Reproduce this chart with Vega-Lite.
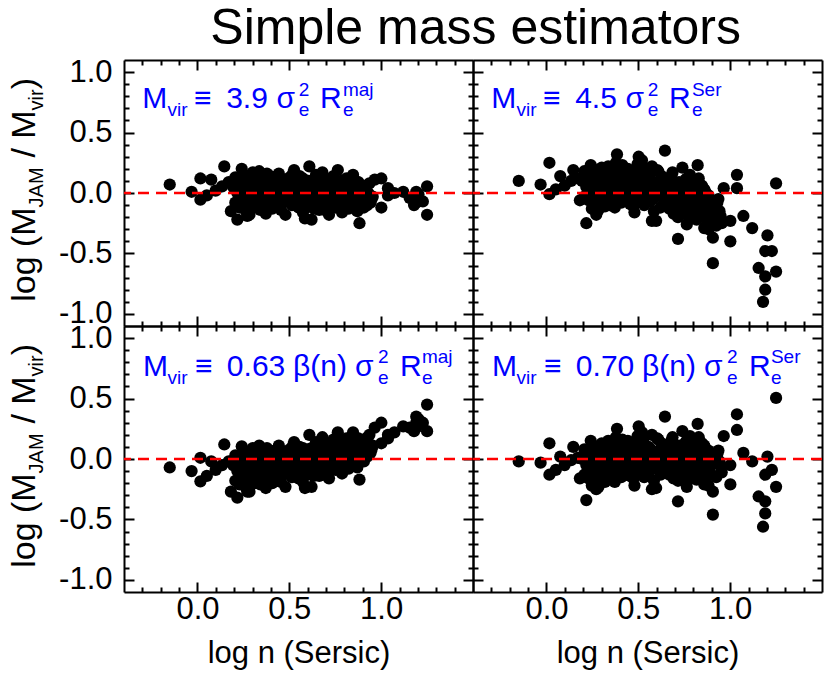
{
"$schema":"https://vega.github.io/schema/vega-lite/v6.json",
"padding":{"left":8,"top":4,"right":4,"bottom":4},
"background":"white",
"config":{"view":{"stroke":null},"font":"Liberation Sans","text":{"font":"Liberation Sans"}},
"title":{"text":"Simple mass estimators","fontSize":50,"fontWeight":"normal","color":"black","anchor":"middle","frame":"bounds","offset":2,"dx":60},
"data":{"values":[
{"n":-0.151,"tl":0.07,"tr":0.10,"bl":-0.07,"br":-0.02},
{"n":-0.032,"tl":0.01,"tr":0.07,"bl":-0.10,"br":-0.03},
{"n":0.016,"tl":0.12,"tr":0.25,"bl":0.01,"br":0.13},
{"n":0.075,"tl":0.11,"tr":0.14,"bl":-0.02,"br":0.02},
{"n":0.016,"tl":-0.055,"tr":-0.01,"bl":-0.185,"br":-0.13},
{"n":0.146,"tl":0.22,"tr":0.19,"bl":0.12,"br":0.10},
{"n":0.134,"tl":0.055,"tr":0.10,"bl":-0.05,"br":-0.01},
{"n":0.182,"tl":-0.15,"tr":-0.06,"bl":-0.27,"br":-0.16},
{"n":0.217,"tl":-0.22,"tr":-0.25,"bl":-0.32,"br":-0.34},
{"n":0.271,"tl":-0.19,"tr":-0.18,"bl":-0.27,"br":-0.25},
{"n":0.241,"tl":0.20,"tr":0.23,"bl":0.105,"br":0.15},
{"n":0.099,"tl":0.02,"tr":0.06,"bl":-0.09,"br":-0.05},
{"n":0.051,"tl":-0.02,"tr":0.03,"bl":-0.14,"br":-0.09},
{"n":0.170,"tl":0.09,"tr":0.12,"bl":-0.02,"br":0.01},
{"n":0.194,"tl":0.05,"tr":0.10,"bl":-0.05,"br":0.00},
{"n":0.206,"tl":-0.08,"tr":-0.03,"bl":-0.18,"br":-0.13},
{"n":0.206,"tl":0.13,"tr":0.18,"bl":0.03,"br":0.08},
{"n":0.217,"tl":0.00,"tr":0.05,"bl":-0.10,"br":-0.05},
{"n":0.229,"tl":-0.12,"tr":-0.06,"bl":-0.21,"br":-0.16},
{"n":0.229,"tl":0.08,"tr":0.15,"bl":-0.01,"br":0.05},
{"n":0.241,"tl":-0.03,"tr":0.02,"bl":-0.12,"br":-0.07},
{"n":0.253,"tl":0.15,"tr":0.20,"bl":0.06,"br":0.11},
{"n":0.253,"tl":-0.06,"tr":-0.01,"bl":-0.15,"br":-0.10},
{"n":0.265,"tl":0.03,"tr":0.09,"bl":-0.06,"br":0.00},
{"n":0.265,"tl":-0.15,"tr":-0.10,"bl":-0.24,"br":-0.19},
{"n":0.277,"tl":0.10,"tr":0.13,"bl":0.02,"br":0.05},
{"n":0.277,"tl":-0.01,"tr":0.04,"bl":-0.09,"br":-0.04},
{"n":0.289,"tl":0.06,"tr":0.11,"bl":-0.02,"br":0.03},
{"n":0.289,"tl":-0.09,"tr":-0.04,"bl":-0.17,"br":-0.12},
{"n":0.301,"tl":0.17,"tr":0.21,"bl":0.09,"br":0.13},
{"n":0.301,"tl":-0.04,"tr":0.01,"bl":-0.12,"br":-0.07},
{"n":0.312,"tl":0.01,"tr":0.07,"bl":-0.07,"br":-0.01},
{"n":0.312,"tl":-0.12,"tr":-0.08,"bl":-0.20,"br":-0.16},
{"n":0.324,"tl":0.09,"tr":0.14,"bl":0.02,"br":0.07},
{"n":0.324,"tl":-0.06,"tr":-0.02,"bl":-0.13,"br":-0.09},
{"n":0.336,"tl":0.03,"tr":0.08,"bl":-0.04,"br":0.01},
{"n":0.336,"tl":0.18,"tr":0.22,"bl":0.11,"br":0.15},
{"n":0.348,"tl":-0.10,"tr":-0.05,"bl":-0.17,"br":-0.12},
{"n":0.348,"tl":0.05,"tr":0.12,"bl":-0.02,"br":0.05},
{"n":0.360,"tl":-0.02,"tr":0.03,"bl":-0.09,"br":-0.04},
{"n":0.360,"tl":0.12,"tr":0.18,"bl":0.05,"br":0.11},
{"n":0.372,"tl":-0.17,"tr":-0.12,"bl":-0.24,"br":-0.19},
{"n":0.372,"tl":0.00,"tr":0.06,"bl":-0.07,"br":-0.01},
{"n":0.384,"tl":0.07,"tr":0.32,"bl":0.00,"br":0.25},
{"n":0.384,"tl":-0.07,"tr":-0.03,"bl":-0.14,"br":-0.10},
{"n":0.396,"tl":0.14,"tr":0.17,"bl":0.07,"br":0.10},
{"n":0.396,"tl":-0.03,"tr":0.02,"bl":-0.10,"br":-0.05},
{"n":0.407,"tl":0.04,"tr":0.09,"bl":-0.03,"br":0.02},
{"n":0.407,"tl":-0.13,"tr":-0.08,"bl":-0.20,"br":-0.15},
{"n":0.419,"tl":0.10,"tr":0.15,"bl":0.04,"br":0.09},
{"n":0.419,"tl":-0.05,"tr":0.00,"bl":-0.11,"br":-0.06},
{"n":0.431,"tl":0.02,"tr":0.08,"bl":-0.04,"br":0.02},
{"n":0.431,"tl":-0.09,"tr":-0.04,"bl":-0.15,"br":-0.10},
{"n":0.443,"tl":0.16,"tr":0.20,"bl":0.11,"br":0.15},
{"n":0.443,"tl":-0.01,"tr":0.05,"bl":-0.06,"br":0.00},
{"n":0.455,"tl":0.06,"tr":0.10,"bl":0.01,"br":0.05},
{"n":0.455,"tl":-0.14,"tr":-0.09,"bl":-0.19,"br":-0.14},
{"n":0.467,"tl":0.11,"tr":0.16,"bl":0.06,"br":0.11},
{"n":0.467,"tl":-0.04,"tr":0.01,"bl":-0.09,"br":-0.04},
{"n":0.479,"tl":0.00,"tr":0.06,"bl":-0.05,"br":0.01},
{"n":0.479,"tl":-0.18,"tr":-0.16,"bl":-0.23,"br":-0.22},
{"n":0.491,"tl":0.08,"tr":0.12,"bl":0.03,"br":0.07},
{"n":0.491,"tl":-0.07,"tr":-0.02,"bl":-0.12,"br":-0.07},
{"n":0.502,"tl":0.03,"tr":0.30,"bl":-0.02,"br":0.27},
{"n":0.502,"tl":0.13,"tr":0.16,"bl":0.08,"br":0.11},
{"n":0.514,"tl":-0.10,"tr":-0.05,"bl":-0.15,"br":-0.10},
{"n":0.514,"tl":0.05,"tr":0.09,"bl":0.00,"br":0.04},
{"n":0.526,"tl":-0.02,"tr":0.03,"bl":-0.07,"br":-0.02},
{"n":0.526,"tl":0.19,"tr":0.21,"bl":0.14,"br":0.16},
{"n":0.538,"tl":-0.05,"tr":0.00,"bl":-0.10,"br":-0.05},
{"n":0.538,"tl":0.09,"tr":0.13,"bl":0.04,"br":0.08},
{"n":0.550,"tl":-0.12,"tr":-0.07,"bl":-0.16,"br":-0.11},
{"n":0.550,"tl":0.01,"tr":0.06,"bl":-0.03,"br":0.02},
{"n":0.562,"tl":0.07,"tr":0.08,"bl":0.04,"br":0.05},
{"n":0.562,"tl":-0.08,"tr":-0.07,"bl":-0.11,"br":-0.10},
{"n":0.574,"tl":0.12,"tr":0.22,"bl":0.09,"br":0.20},
{"n":0.574,"tl":-0.16,"tr":-0.23,"bl":-0.19,"br":-0.25},
{"n":0.585,"tl":0.02,"tr":0.03,"bl":-0.01,"br":0.00},
{"n":0.585,"tl":-0.21,"tr":-0.15,"bl":-0.24,"br":-0.18},
{"n":0.597,"tl":0.04,"tr":0.02,"bl":0.02,"br":0.00},
{"n":0.597,"tl":-0.11,"tr":-0.23,"bl":-0.13,"br":-0.24},
{"n":0.609,"tl":0.22,"tr":0.18,"bl":0.20,"br":0.16},
{"n":0.609,"tl":-0.03,"tr":-0.02,"bl":-0.05,"br":-0.04},
{"n":0.621,"tl":0.10,"tr":0.09,"bl":0.09,"br":0.08},
{"n":0.621,"tl":-0.22,"tr":-0.12,"bl":-0.23,"br":-0.13},
{"n":0.633,"tl":0.00,"tr":0.00,"bl":-0.01,"br":-0.01},
{"n":0.633,"tl":-0.13,"tr":-0.10,"bl":-0.14,"br":-0.11},
{"n":0.645,"tl":0.06,"tr":0.35,"bl":0.05,"br":0.35},
{"n":0.645,"tl":0.15,"tr":0.12,"bl":0.14,"br":0.11},
{"n":0.657,"tl":-0.06,"tr":-0.08,"bl":-0.06,"br":-0.08},
{"n":0.657,"tl":0.03,"tr":0.05,"bl":0.03,"br":0.05},
{"n":0.669,"tl":-0.10,"tr":-0.13,"bl":-0.10,"br":-0.13},
{"n":0.669,"tl":0.08,"tr":0.06,"bl":0.08,"br":0.06},
{"n":0.680,"tl":-0.02,"tr":-0.04,"bl":-0.01,"br":-0.03},
{"n":0.680,"tl":0.17,"tr":0.14,"bl":0.18,"br":0.15},
{"n":0.692,"tl":0.04,"tr":0.01,"bl":0.05,"br":0.02},
{"n":0.692,"tl":-0.14,"tr":-0.17,"bl":-0.13,"br":-0.16},
{"n":0.704,"tl":0.11,"tr":0.08,"bl":0.13,"br":0.10},
{"n":0.704,"tl":-0.05,"tr":-0.08,"bl":-0.03,"br":-0.06},
{"n":0.716,"tl":0.01,"tr":-0.38,"bl":0.03,"br":-0.35},
{"n":0.716,"tl":-0.18,"tr":-0.20,"bl":-0.16,"br":-0.18},
{"n":0.728,"tl":0.07,"tr":0.04,"bl":0.09,"br":0.06},
{"n":0.728,"tl":-0.08,"tr":-0.11,"bl":-0.06,"br":-0.09},
{"n":0.740,"tl":0.14,"tr":0.21,"bl":0.16,"br":0.23},
{"n":0.740,"tl":0.00,"tr":-0.03,"bl":0.02,"br":-0.01},
{"n":0.752,"tl":-0.12,"tr":-0.15,"bl":-0.09,"br":-0.12},
{"n":0.752,"tl":0.05,"tr":0.02,"bl":0.08,"br":0.05},
{"n":0.764,"tl":-0.03,"tr":-0.26,"bl":0.00,"br":-0.23},
{"n":0.764,"tl":0.19,"tr":0.12,"bl":0.22,"br":0.15},
{"n":0.775,"tl":0.09,"tr":0.05,"bl":0.12,"br":0.08},
{"n":0.775,"tl":-0.07,"tr":-0.12,"bl":-0.04,"br":-0.09},
{"n":0.787,"tl":0.02,"tr":-0.03,"bl":0.06,"br":0.01},
{"n":0.787,"tl":-0.16,"tr":-0.20,"bl":-0.12,"br":-0.16},
{"n":0.799,"tl":0.06,"tr":0.00,"bl":0.10,"br":0.04},
{"n":0.799,"tl":-0.10,"tr":-0.16,"bl":-0.06,"br":-0.12},
{"n":0.811,"tl":0.12,"tr":0.07,"bl":0.17,"br":0.12},
{"n":0.811,"tl":-0.02,"tr":-0.08,"bl":0.03,"br":-0.03},
{"n":0.823,"tl":0.04,"tr":0.23,"bl":0.09,"br":0.29},
{"n":0.823,"tl":-0.13,"tr":-0.20,"bl":-0.08,"br":-0.15},
{"n":0.835,"tl":0.08,"tr":0.01,"bl":0.14,"br":0.07},
{"n":0.835,"tl":-0.05,"tr":-0.12,"bl":0.01,"br":-0.06},
{"n":0.847,"tl":0.15,"tr":0.06,"bl":0.22,"br":0.13},
{"n":0.847,"tl":0.00,"tr":-0.09,"bl":0.07,"br":-0.02},
{"n":0.859,"tl":-0.08,"tr":-0.29,"bl":0.00,"br":-0.21},
{"n":0.859,"tl":0.10,"tr":0.03,"bl":0.18,"br":0.11},
{"n":0.870,"tl":-0.15,"tr":-0.22,"bl":-0.07,"br":-0.14},
{"n":0.870,"tl":0.03,"tr":-0.05,"bl":0.11,"br":0.03},
{"n":0.882,"tl":-0.25,"tr":-0.30,"bl":-0.17,"br":-0.22},
{"n":0.882,"tl":0.07,"tr":-0.02,"bl":0.16,"br":0.07},
{"n":0.894,"tl":-0.04,"tr":-0.10,"bl":0.05,"br":-0.01},
{"n":0.906,"tl":-0.12,"tr":-0.37,"bl":-0.02,"br":-0.27},
{"n":0.906,"tl":0.05,"tr":-0.58,"bl":0.15,"br":-0.46},
{"n":0.930,"tl":0.00,"tr":-0.08,"bl":0.12,"br":0.04},
{"n":0.942,"tl":-0.08,"tr":-0.15,"bl":0.05,"br":-0.02},
{"n":0.965,"tl":0.11,"tr":0.04,"bl":0.26,"br":0.19},
{"n":0.954,"tl":-0.03,"tr":-0.25,"bl":0.11,"br":-0.11},
{"n":1.001,"tl":0.12,"tr":-0.40,"bl":0.30,"br":-0.21},
{"n":1.001,"tl":-0.12,"tr":-0.23,"bl":0.13,"br":-0.05},
{"n":1.037,"tl":0.04,"tr":0.15,"bl":0.20,"br":0.37},
{"n":1.037,"tl":-0.02,"tr":0.04,"bl":0.17,"br":0.24},
{"n":1.072,"tl":0.00,"tr":-0.19,"bl":0.22,"br":0.05},
{"n":1.120,"tl":0.01,"tr":-0.29,"bl":0.27,"br":-0.02},
{"n":1.155,"tl":-0.04,"tr":-0.62,"bl":0.26,"br":-0.31},
{"n":1.191,"tl":0.01,"tr":-0.48,"bl":0.35,"br":-0.13},
{"n":1.191,"tl":-0.03,"tr":-0.69,"bl":0.30,"br":-0.35},
{"n":1.191,"tl":-0.08,"tr":-0.80,"bl":0.26,"br":-0.45},
{"n":1.179,"tl":-0.10,"tr":-0.90,"bl":0.23,"br":-0.56},
{"n":1.227,"tl":-0.07,"tr":-0.48,"bl":0.30,"br":-0.09},
{"n":1.203,"tl":-0.01,"tr":-0.35,"bl":0.33,"br":0.02},
{"n":1.250,"tl":0.055,"tr":0.08,"bl":0.45,"br":0.505},
{"n":1.250,"tl":-0.18,"tr":-0.65,"bl":0.23,"br":-0.23},
{"n":0.235,"tl":0.11,"tr":0.12,"bl":0.02,"br":0.03},
{"n":0.247,"tl":-0.10,"tr":-0.13,"bl":-0.19,"br":-0.22},
{"n":0.259,"tl":0.05,"tr":0.02,"bl":-0.04,"br":-0.07},
{"n":0.283,"tl":-0.18,"tr":-0.14,"bl":-0.27,"br":-0.23},
{"n":0.295,"tl":0.13,"tr":0.10,"bl":0.05,"br":0.02},
{"n":0.306,"tl":0.04,"tr":0.16,"bl":-0.04,"br":0.08},
{"n":0.318,"tl":-0.02,"tr":-0.11,"bl":-0.10,"br":-0.19},
{"n":0.330,"tl":0.13,"tr":0.05,"bl":0.06,"br":-0.02},
{"n":0.342,"tl":-0.14,"tr":-0.10,"bl":-0.21,"br":-0.17},
{"n":0.354,"tl":0.09,"tr":0.19,"bl":0.02,"br":0.12},
{"n":0.366,"tl":-0.06,"tr":0.09,"bl":-0.13,"br":0.02},
{"n":0.378,"tl":0.16,"tr":0.25,"bl":0.09,"br":0.18},
{"n":0.390,"tl":0.02,"tr":-0.06,"bl":-0.05,"br":-0.13},
{"n":0.401,"tl":-0.10,"tr":0.04,"bl":-0.17,"br":-0.03},
{"n":0.413,"tl":0.13,"tr":0.23,"bl":0.06,"br":0.16},
{"n":0.425,"tl":-0.01,"tr":0.11,"bl":-0.07,"br":0.05},
{"n":0.437,"tl":0.07,"tr":0.02,"bl":0.01,"br":-0.04},
{"n":0.449,"tl":-0.12,"tr":0.00,"bl":-0.18,"br":-0.06},
{"n":0.461,"tl":0.03,"tr":0.17,"bl":-0.03,"br":0.11},
{"n":0.473,"tl":-0.07,"tr":-0.11,"bl":-0.12,"br":-0.16},
{"n":0.496,"tl":0.11,"tr":0.24,"bl":0.06,"br":0.19},
{"n":0.508,"tl":-0.04,"tr":0.07,"bl":-0.09,"br":0.02},
{"n":0.520,"tl":0.16,"tr":0.27,"bl":0.11,"br":0.22},
{"n":0.532,"tl":0.02,"tr":-0.10,"bl":-0.03,"br":-0.15},
{"n":0.544,"tl":-0.09,"tr":0.03,"bl":-0.13,"br":-0.01},
{"n":0.556,"tl":0.14,"tr":0.14,"bl":0.10,"br":0.10},
{"n":0.568,"tl":-0.04,"tr":0.11,"bl":-0.07,"br":0.08},
{"n":0.580,"tl":0.07,"tr":-0.05,"bl":0.04,"br":-0.08},
{"n":0.591,"tl":-0.09,"tr":0.06,"bl":-0.11,"br":0.04},
{"n":0.603,"tl":0.10,"tr":0.19,"bl":0.08,"br":0.17},
{"n":0.627,"tl":0.04,"tr":0.14,"bl":0.03,"br":0.13},
{"n":0.639,"tl":-0.08,"tr":0.03,"bl":-0.09,"br":0.02},
{"n":0.651,"tl":0.11,"tr":0.00,"bl":0.11,"br":0.00},
{"n":0.663,"tl":-0.14,"tr":-0.03,"bl":-0.14,"br":-0.03},
{"n":0.675,"tl":0.02,"tr":0.10,"bl":0.02,"br":0.10},
{"n":0.686,"tl":0.08,"tr":0.17,"bl":0.09,"br":0.18},
{"n":0.698,"tl":-0.09,"tr":0.05,"bl":-0.08,"br":0.06},
{"n":0.710,"tl":0.05,"tr":-0.12,"bl":0.07,"br":-0.10},
{"n":0.722,"tl":-0.03,"tr":0.09,"bl":-0.01,"br":0.11},
{"n":0.734,"tl":0.12,"tr":0.01,"bl":0.14,"br":0.03},
{"n":0.746,"tl":-0.10,"tr":-0.05,"bl":-0.08,"br":-0.03},
{"n":0.758,"tl":0.03,"tr":0.11,"bl":0.06,"br":0.14},
{"n":0.770,"tl":-0.06,"tr":-0.19,"bl":-0.03,"br":-0.16},
{"n":0.781,"tl":0.10,"tr":0.15,"bl":0.14,"br":0.19},
{"n":0.793,"tl":-0.09,"tr":-0.06,"bl":-0.05,"br":-0.02},
{"n":0.805,"tl":0.01,"tr":0.09,"bl":0.05,"br":0.13},
{"n":0.817,"tl":-0.06,"tr":-0.22,"bl":-0.01,"br":-0.17},
{"n":0.829,"tl":0.11,"tr":0.12,"bl":0.17,"br":0.18},
{"n":0.841,"tl":-0.11,"tr":-0.01,"bl":-0.05,"br":0.05},
{"n":0.853,"tl":0.02,"tr":-0.16,"bl":0.09,"br":-0.09},
{"n":0.865,"tl":-0.03,"tr":0.01,"bl":0.05,"br":0.09},
{"n":0.876,"tl":0.09,"tr":-0.07,"bl":0.17,"br":0.01},
{"n":0.888,"tl":-0.07,"tr":-0.17,"bl":0.02,"br":-0.08},
{"n":0.900,"tl":0.03,"tr":-0.23,"bl":0.13,"br":-0.13},
{"n":0.918,"tl":0.06,"tr":-0.12,"bl":0.17,"br":-0.01},
{"n":0.924,"tl":-0.10,"tr":-0.27,"bl":0.02,"br":-0.15},
{"n":0.936,"tl":0.08,"tr":-0.05,"bl":0.20,"br":0.07},
{"n":0.948,"tl":-0.05,"tr":-0.19,"bl":0.08,"br":-0.06}
]},
"columns":2,
"spacing":0,
"bounds":"flush",
"concat":[
{"width":349,"height":266,
 "layer":[
  {"mark":{"type":"circle","size":150,"color":"black","opacity":1},
   "encoding":{
    "x":{"field":"n","type":"quantitative","scale":{"domain":[-0.4,1.5],"nice":false,"zero":false},"axis":{"orient":"bottom","values":[-0.3,-0.2,-0.1,0.1,0.2,0.3,0.4,0.6,0.7,0.8,0.9,1.1,1.2,1.3,1.4],"labels":false,"title":null,"grid":false,"domain":true,"domainColor":"black","domainWidth":2,"ticks":true,"tickColor":"black","tickWidth":2,"tickSize":-5}},
    "y":{"field":"tl","type":"quantitative","scale":{"domain":[-1.1,1.1],"nice":false,"zero":false},"axis":{"orient":"left","values":[-0.9,-0.8,-0.7,-0.6,-0.4,-0.3,-0.2,-0.1,0.1,0.2,0.3,0.4,0.6,0.7,0.8,0.9],"labels":false,"title":null,"grid":false,"domain":true,"domainColor":"black","domainWidth":2,"ticks":true,"tickColor":"black","tickWidth":2,"tickSize":-5}}}},
  {"data":{"values":[{}]},"mark":{"type":"point","opacity":0},
   "encoding":{"x":{"datum":0,"axis":{"orient":"bottom","values":[0,0.5,1],"labels":false,"title":null,"grid":false,"domain":false,"ticks":true,"tickColor":"black","tickWidth":2,"tickSize":-10}},
               "y":{"datum":0,"axis":{"orient":"left","values":[-1,-0.5,0,0.5,1],"labels":false,"title":null,"grid":false,"domain":false,"ticks":true,"tickColor":"black","tickWidth":2,"tickSize":-10}}}},
  {"data":{"values":[{}]},"mark":{"type":"point","opacity":0},
   "encoding":{"x":{"datum":0,"axis":{"orient":"top","values":[-0.3,-0.2,-0.1,0.1,0.2,0.3,0.4,0.6,0.7,0.8,0.9,1.1,1.2,1.3,1.4],"labels":false,"title":null,"grid":false,"domain":true,"domainColor":"black","domainWidth":2,"ticks":true,"tickColor":"black","tickWidth":2,"tickSize":-5}},
               "y":{"datum":0,"axis":{"orient":"right","values":[-0.9,-0.8,-0.7,-0.6,-0.4,-0.3,-0.2,-0.1,0.1,0.2,0.3,0.4,0.6,0.7,0.8,0.9],"labels":false,"title":null,"grid":false,"domain":true,"domainColor":"black","domainWidth":2,"ticks":true,"tickColor":"black","tickWidth":2,"tickSize":-5}}}},
  {"data":{"values":[{}]},"mark":{"type":"point","opacity":0},
   "encoding":{"x":{"datum":0,"axis":{"orient":"top","values":[0,0.5,1],"labels":false,"title":null,"grid":false,"domain":false,"ticks":true,"tickColor":"black","tickWidth":2,"tickSize":-10}},
               "y":{"datum":0,"axis":{"orient":"right","values":[-1,-0.5,0,0.5,1],"labels":false,"title":null,"grid":false,"domain":false,"ticks":true,"tickColor":"black","tickWidth":2,"tickSize":-10}}}},
  {"data":{"values":[{}]},"mark":{"type":"point","opacity":0},
   "encoding":{"x":{"datum":0,"axis":null},
               "y":{"datum":0,"axis":{"orient":"left","values":[-1,-0.5,0,0.5,1],"ticks":false,"domain":false,"grid":false,"labelFontSize":31,"labelPadding":12,"labelColor":"black","labelExpr":"datum.value < 0 ? '-' + format(-datum.value,'.1f') : format(datum.value,'.1f')","title":null}}}},
  {"data":{"values":[{}]},"mark":{"type":"rule","color":"#ff0000","strokeWidth":2.5,"strokeDash":[11,7]},"encoding":{"y":{"datum":0,"axis":null}}},
  {"data":{"values":[{}]},"mark":{"type":"text","text":"M","fontSize":30,"color":"#0000ff","align":"left","baseline":"alphabetic"},"encoding":{"x":{"datum":-0.301,"axis":null},"y":{"datum":0.70,"axis":null}}},
  {"data":{"values":[{}]},"mark":{"type":"text","text":"vir","fontSize":19,"color":"#0000ff","align":"left","baseline":"alphabetic"},"encoding":{"x":{"datum":-0.163,"axis":null},"y":{"datum":0.634,"axis":null}}},
  {"data":{"values":[{}]},"mark":{"type":"text","text":"≡","fontSize":30,"color":"#0000ff","align":"left","baseline":"alphabetic"},"encoding":{"x":{"datum":-0.019,"axis":null},"y":{"datum":0.70,"axis":null}}},
  {"data":{"values":[{}]},"mark":{"type":"text","text":"3.9","fontSize":30,"color":"#0000ff","align":"left","baseline":"alphabetic"},"encoding":{"x":{"datum":0.156,"axis":null},"y":{"datum":0.70,"axis":null}}},
  {"data":{"values":[{}]},"mark":{"type":"text","text":"σ","fontSize":30,"color":"#0000ff","align":"left","baseline":"alphabetic"},"encoding":{"x":{"datum":0.43,"axis":null},"y":{"datum":0.70,"axis":null}}},
  {"data":{"values":[{}]},"mark":{"type":"text","text":"e","fontSize":19,"color":"#0000ff","align":"left","baseline":"alphabetic"},"encoding":{"x":{"datum":0.551,"axis":null},"y":{"datum":0.634,"axis":null}}},
  {"data":{"values":[{}]},"mark":{"type":"text","text":"2","fontSize":19,"color":"#0000ff","align":"left","baseline":"alphabetic"},"encoding":{"x":{"datum":0.551,"axis":null},"y":{"datum":0.80,"axis":null}}},
  {"data":{"values":[{}]},"mark":{"type":"text","text":"R","fontSize":30,"color":"#0000ff","align":"left","baseline":"alphabetic"},"encoding":{"x":{"datum":0.667,"axis":null},"y":{"datum":0.70,"axis":null}}},
  {"data":{"values":[{}]},"mark":{"type":"text","text":"e","fontSize":19,"color":"#0000ff","align":"left","baseline":"alphabetic"},"encoding":{"x":{"datum":0.792,"axis":null},"y":{"datum":0.634,"axis":null}}},
  {"data":{"values":[{}]},"mark":{"type":"text","text":"maj","fontSize":19,"color":"#0000ff","align":"left","baseline":"alphabetic"},"encoding":{"x":{"datum":0.792,"axis":null},"y":{"datum":0.80,"axis":null}}},
  {"data":{"values":[{}]},"mark":{"type":"text","text":"log (M","fontSize":34,"color":"black","align":"left","baseline":"alphabetic","angle":270},"encoding":{"x":{"datum":-0.884,"axis":null},"y":{"datum":-0.90,"axis":null}}},
  {"data":{"values":[{}]},"mark":{"type":"text","text":"JAM","fontSize":20,"color":"black","align":"left","baseline":"alphabetic","angle":270},"encoding":{"x":{"datum":-0.842,"axis":null},"y":{"datum":-0.119,"axis":null}}},
  {"data":{"values":[{}]},"mark":{"type":"text","text":"/ M","fontSize":34,"color":"black","align":"left","baseline":"alphabetic","angle":270},"encoding":{"x":{"datum":-0.884,"axis":null},"y":{"datum":0.293,"axis":null}}},
  {"data":{"values":[{}]},"mark":{"type":"text","text":"vir","fontSize":20,"color":"black","align":"left","baseline":"alphabetic","angle":270},"encoding":{"x":{"datum":-0.842,"axis":null},"y":{"datum":0.683,"axis":null}}},
  {"data":{"values":[{}]},"mark":{"type":"text","text":")","fontSize":34,"color":"black","align":"left","baseline":"alphabetic","angle":270},"encoding":{"x":{"datum":-0.884,"axis":null},"y":{"datum":0.858,"axis":null}}}
 ],
 "resolve":{"axis":{"x":"independent","y":"independent"}}
},
{"width":349,"height":266,
 "layer":[
  {"mark":{"type":"circle","size":150,"color":"black","opacity":1},
   "encoding":{
    "x":{"field":"n","type":"quantitative","scale":{"domain":[-0.4,1.5],"nice":false,"zero":false},"axis":{"orient":"bottom","values":[-0.3,-0.2,-0.1,0.1,0.2,0.3,0.4,0.6,0.7,0.8,0.9,1.1,1.2,1.3,1.4],"labels":false,"title":null,"grid":false,"domain":true,"domainColor":"black","domainWidth":2,"ticks":true,"tickColor":"black","tickWidth":2,"tickSize":-5}},
    "y":{"field":"tr","type":"quantitative","scale":{"domain":[-1.1,1.1],"nice":false,"zero":false},"axis":{"orient":"left","values":[-0.9,-0.8,-0.7,-0.6,-0.4,-0.3,-0.2,-0.1,0.1,0.2,0.3,0.4,0.6,0.7,0.8,0.9],"labels":false,"title":null,"grid":false,"domain":true,"domainColor":"black","domainWidth":2,"ticks":true,"tickColor":"black","tickWidth":2,"tickSize":-5}}}},
  {"data":{"values":[{}]},"mark":{"type":"point","opacity":0},
   "encoding":{"x":{"datum":0,"axis":{"orient":"bottom","values":[0,0.5,1],"labels":false,"title":null,"grid":false,"domain":false,"ticks":true,"tickColor":"black","tickWidth":2,"tickSize":-10}},
               "y":{"datum":0,"axis":{"orient":"left","values":[-1,-0.5,0,0.5,1],"labels":false,"title":null,"grid":false,"domain":false,"ticks":true,"tickColor":"black","tickWidth":2,"tickSize":-10}}}},
  {"data":{"values":[{}]},"mark":{"type":"point","opacity":0},
   "encoding":{"x":{"datum":0,"axis":{"orient":"top","values":[-0.3,-0.2,-0.1,0.1,0.2,0.3,0.4,0.6,0.7,0.8,0.9,1.1,1.2,1.3,1.4],"labels":false,"title":null,"grid":false,"domain":true,"domainColor":"black","domainWidth":2,"ticks":true,"tickColor":"black","tickWidth":2,"tickSize":-5}},
               "y":{"datum":0,"axis":{"orient":"right","values":[-0.9,-0.8,-0.7,-0.6,-0.4,-0.3,-0.2,-0.1,0.1,0.2,0.3,0.4,0.6,0.7,0.8,0.9],"labels":false,"title":null,"grid":false,"domain":true,"domainColor":"black","domainWidth":2,"ticks":true,"tickColor":"black","tickWidth":2,"tickSize":-5}}}},
  {"data":{"values":[{}]},"mark":{"type":"point","opacity":0},
   "encoding":{"x":{"datum":0,"axis":{"orient":"top","values":[0,0.5,1],"labels":false,"title":null,"grid":false,"domain":false,"ticks":true,"tickColor":"black","tickWidth":2,"tickSize":-10}},
               "y":{"datum":0,"axis":{"orient":"right","values":[-1,-0.5,0,0.5,1],"labels":false,"title":null,"grid":false,"domain":false,"ticks":true,"tickColor":"black","tickWidth":2,"tickSize":-10}}}},
  {"data":{"values":[{}]},"mark":{"type":"rule","color":"#ff0000","strokeWidth":2.5,"strokeDash":[11,7]},"encoding":{"y":{"datum":0,"axis":null}}},
  {"data":{"values":[{}]},"mark":{"type":"text","text":"M","fontSize":30,"color":"#0000ff","align":"left","baseline":"alphabetic"},"encoding":{"x":{"datum":-0.301,"axis":null},"y":{"datum":0.70,"axis":null}}},
  {"data":{"values":[{}]},"mark":{"type":"text","text":"vir","fontSize":19,"color":"#0000ff","align":"left","baseline":"alphabetic"},"encoding":{"x":{"datum":-0.163,"axis":null},"y":{"datum":0.634,"axis":null}}},
  {"data":{"values":[{}]},"mark":{"type":"text","text":"≡","fontSize":30,"color":"#0000ff","align":"left","baseline":"alphabetic"},"encoding":{"x":{"datum":-0.019,"axis":null},"y":{"datum":0.70,"axis":null}}},
  {"data":{"values":[{}]},"mark":{"type":"text","text":"4.5","fontSize":30,"color":"#0000ff","align":"left","baseline":"alphabetic"},"encoding":{"x":{"datum":0.156,"axis":null},"y":{"datum":0.70,"axis":null}}},
  {"data":{"values":[{}]},"mark":{"type":"text","text":"σ","fontSize":30,"color":"#0000ff","align":"left","baseline":"alphabetic"},"encoding":{"x":{"datum":0.43,"axis":null},"y":{"datum":0.70,"axis":null}}},
  {"data":{"values":[{}]},"mark":{"type":"text","text":"e","fontSize":19,"color":"#0000ff","align":"left","baseline":"alphabetic"},"encoding":{"x":{"datum":0.551,"axis":null},"y":{"datum":0.634,"axis":null}}},
  {"data":{"values":[{}]},"mark":{"type":"text","text":"2","fontSize":19,"color":"#0000ff","align":"left","baseline":"alphabetic"},"encoding":{"x":{"datum":0.551,"axis":null},"y":{"datum":0.80,"axis":null}}},
  {"data":{"values":[{}]},"mark":{"type":"text","text":"R","fontSize":30,"color":"#0000ff","align":"left","baseline":"alphabetic"},"encoding":{"x":{"datum":0.667,"axis":null},"y":{"datum":0.70,"axis":null}}},
  {"data":{"values":[{}]},"mark":{"type":"text","text":"e","fontSize":19,"color":"#0000ff","align":"left","baseline":"alphabetic"},"encoding":{"x":{"datum":0.792,"axis":null},"y":{"datum":0.634,"axis":null}}},
  {"data":{"values":[{}]},"mark":{"type":"text","text":"Ser","fontSize":19,"color":"#0000ff","align":"left","baseline":"alphabetic"},"encoding":{"x":{"datum":0.792,"axis":null},"y":{"datum":0.80,"axis":null}}}
 ],
 "resolve":{"axis":{"x":"independent","y":"independent"}}
},
{"width":349,"height":266,
 "layer":[
  {"mark":{"type":"circle","size":150,"color":"black","opacity":1},
   "encoding":{
    "x":{"field":"n","type":"quantitative","scale":{"domain":[-0.4,1.5],"nice":false,"zero":false},"axis":{"orient":"bottom","values":[-0.3,-0.2,-0.1,0.1,0.2,0.3,0.4,0.6,0.7,0.8,0.9,1.1,1.2,1.3,1.4],"labels":false,"title":null,"grid":false,"domain":true,"domainColor":"black","domainWidth":2,"ticks":true,"tickColor":"black","tickWidth":2,"tickSize":-5}},
    "y":{"field":"bl","type":"quantitative","scale":{"domain":[-1.1,1.1],"nice":false,"zero":false},"axis":{"orient":"left","values":[-0.9,-0.8,-0.7,-0.6,-0.4,-0.3,-0.2,-0.1,0.1,0.2,0.3,0.4,0.6,0.7,0.8,0.9],"labels":false,"title":null,"grid":false,"domain":true,"domainColor":"black","domainWidth":2,"ticks":true,"tickColor":"black","tickWidth":2,"tickSize":-5}}}},
  {"data":{"values":[{}]},"mark":{"type":"point","opacity":0},
   "encoding":{"x":{"datum":0,"axis":{"orient":"bottom","values":[0,0.5,1],"labels":false,"title":null,"grid":false,"domain":false,"ticks":true,"tickColor":"black","tickWidth":2,"tickSize":-10}},
               "y":{"datum":0,"axis":{"orient":"left","values":[-1,-0.5,0,0.5,1],"labels":false,"title":null,"grid":false,"domain":false,"ticks":true,"tickColor":"black","tickWidth":2,"tickSize":-10}}}},
  {"data":{"values":[{}]},"mark":{"type":"point","opacity":0},
   "encoding":{"x":{"datum":0,"axis":{"orient":"top","values":[-0.3,-0.2,-0.1,0.1,0.2,0.3,0.4,0.6,0.7,0.8,0.9,1.1,1.2,1.3,1.4],"labels":false,"title":null,"grid":false,"domain":true,"domainColor":"black","domainWidth":2,"ticks":true,"tickColor":"black","tickWidth":2,"tickSize":-5}},
               "y":{"datum":0,"axis":{"orient":"right","values":[-0.9,-0.8,-0.7,-0.6,-0.4,-0.3,-0.2,-0.1,0.1,0.2,0.3,0.4,0.6,0.7,0.8,0.9],"labels":false,"title":null,"grid":false,"domain":true,"domainColor":"black","domainWidth":2,"ticks":true,"tickColor":"black","tickWidth":2,"tickSize":-5}}}},
  {"data":{"values":[{}]},"mark":{"type":"point","opacity":0},
   "encoding":{"x":{"datum":0,"axis":{"orient":"top","values":[0,0.5,1],"labels":false,"title":null,"grid":false,"domain":false,"ticks":true,"tickColor":"black","tickWidth":2,"tickSize":-10}},
               "y":{"datum":0,"axis":{"orient":"right","values":[-1,-0.5,0,0.5,1],"labels":false,"title":null,"grid":false,"domain":false,"ticks":true,"tickColor":"black","tickWidth":2,"tickSize":-10}}}},
  {"data":{"values":[{}]},"mark":{"type":"point","opacity":0},
   "encoding":{"x":{"datum":0,"axis":{"orient":"bottom","values":[0,0.5,1],"ticks":false,"domain":false,"grid":false,"labelFontSize":31,"labelPadding":2,"labelColor":"black","labelExpr":"format(datum.value,'.1f')","title":"log n (Sersic)","titleFontSize":31,"titleFontWeight":"normal","titleColor":"black","titlePadding":14}},
               "y":{"datum":0,"axis":{"orient":"left","values":[-1,-0.5,0,0.5,1],"ticks":false,"domain":false,"grid":false,"labelFontSize":31,"labelPadding":12,"labelColor":"black","labelExpr":"datum.value < 0 ? '-' + format(-datum.value,'.1f') : format(datum.value,'.1f')","title":null}}}},
  {"data":{"values":[{}]},"mark":{"type":"rule","color":"#ff0000","strokeWidth":2.5,"strokeDash":[11,7]},"encoding":{"y":{"datum":0,"axis":null}}},
  {"data":{"values":[{}]},"mark":{"type":"text","text":"M","fontSize":30,"color":"#0000ff","align":"left","baseline":"alphabetic"},"encoding":{"x":{"datum":-0.297,"axis":null},"y":{"datum":0.69,"axis":null}}},
  {"data":{"values":[{}]},"mark":{"type":"text","text":"vir","fontSize":19,"color":"#0000ff","align":"left","baseline":"alphabetic"},"encoding":{"x":{"datum":-0.163,"axis":null},"y":{"datum":0.624,"axis":null}}},
  {"data":{"values":[{}]},"mark":{"type":"text","text":"≡","fontSize":30,"color":"#0000ff","align":"left","baseline":"alphabetic"},"encoding":{"x":{"datum":-0.013,"axis":null},"y":{"datum":0.69,"axis":null}}},
  {"data":{"values":[{}]},"mark":{"type":"text","text":"0.63","fontSize":30,"color":"#0000ff","align":"left","baseline":"alphabetic"},"encoding":{"x":{"datum":0.160,"axis":null},"y":{"datum":0.69,"axis":null}}},
  {"data":{"values":[{}]},"mark":{"type":"text","text":"β(n)","fontSize":30,"color":"#0000ff","align":"left","baseline":"alphabetic"},"encoding":{"x":{"datum":0.520,"axis":null},"y":{"datum":0.69,"axis":null}}},
  {"data":{"values":[{}]},"mark":{"type":"text","text":"σ","fontSize":30,"color":"#0000ff","align":"left","baseline":"alphabetic"},"encoding":{"x":{"datum":0.857,"axis":null},"y":{"datum":0.69,"axis":null}}},
  {"data":{"values":[{}]},"mark":{"type":"text","text":"e","fontSize":19,"color":"#0000ff","align":"left","baseline":"alphabetic"},"encoding":{"x":{"datum":0.983,"axis":null},"y":{"datum":0.624,"axis":null}}},
  {"data":{"values":[{}]},"mark":{"type":"text","text":"2","fontSize":19,"color":"#0000ff","align":"left","baseline":"alphabetic"},"encoding":{"x":{"datum":0.983,"axis":null},"y":{"datum":0.79,"axis":null}}},
  {"data":{"values":[{}]},"mark":{"type":"text","text":"R","fontSize":30,"color":"#0000ff","align":"left","baseline":"alphabetic"},"encoding":{"x":{"datum":1.102,"axis":null},"y":{"datum":0.69,"axis":null}}},
  {"data":{"values":[{}]},"mark":{"type":"text","text":"e","fontSize":19,"color":"#0000ff","align":"left","baseline":"alphabetic"},"encoding":{"x":{"datum":1.222,"axis":null},"y":{"datum":0.624,"axis":null}}},
  {"data":{"values":[{}]},"mark":{"type":"text","text":"maj","fontSize":19,"color":"#0000ff","align":"left","baseline":"alphabetic"},"encoding":{"x":{"datum":1.222,"axis":null},"y":{"datum":0.79,"axis":null}}},
  {"data":{"values":[{}]},"mark":{"type":"text","text":"log (M","fontSize":34,"color":"black","align":"left","baseline":"alphabetic","angle":270},"encoding":{"x":{"datum":-0.884,"axis":null},"y":{"datum":-0.90,"axis":null}}},
  {"data":{"values":[{}]},"mark":{"type":"text","text":"JAM","fontSize":20,"color":"black","align":"left","baseline":"alphabetic","angle":270},"encoding":{"x":{"datum":-0.842,"axis":null},"y":{"datum":-0.119,"axis":null}}},
  {"data":{"values":[{}]},"mark":{"type":"text","text":"/ M","fontSize":34,"color":"black","align":"left","baseline":"alphabetic","angle":270},"encoding":{"x":{"datum":-0.884,"axis":null},"y":{"datum":0.293,"axis":null}}},
  {"data":{"values":[{}]},"mark":{"type":"text","text":"vir","fontSize":20,"color":"black","align":"left","baseline":"alphabetic","angle":270},"encoding":{"x":{"datum":-0.842,"axis":null},"y":{"datum":0.683,"axis":null}}},
  {"data":{"values":[{}]},"mark":{"type":"text","text":")","fontSize":34,"color":"black","align":"left","baseline":"alphabetic","angle":270},"encoding":{"x":{"datum":-0.884,"axis":null},"y":{"datum":0.858,"axis":null}}}
 ],
 "resolve":{"axis":{"x":"independent","y":"independent"}}
},
{"width":349,"height":266,
 "layer":[
  {"mark":{"type":"circle","size":150,"color":"black","opacity":1},
   "encoding":{
    "x":{"field":"n","type":"quantitative","scale":{"domain":[-0.4,1.5],"nice":false,"zero":false},"axis":{"orient":"bottom","values":[-0.3,-0.2,-0.1,0.1,0.2,0.3,0.4,0.6,0.7,0.8,0.9,1.1,1.2,1.3,1.4],"labels":false,"title":null,"grid":false,"domain":true,"domainColor":"black","domainWidth":2,"ticks":true,"tickColor":"black","tickWidth":2,"tickSize":-5}},
    "y":{"field":"br","type":"quantitative","scale":{"domain":[-1.1,1.1],"nice":false,"zero":false},"axis":{"orient":"left","values":[-0.9,-0.8,-0.7,-0.6,-0.4,-0.3,-0.2,-0.1,0.1,0.2,0.3,0.4,0.6,0.7,0.8,0.9],"labels":false,"title":null,"grid":false,"domain":true,"domainColor":"black","domainWidth":2,"ticks":true,"tickColor":"black","tickWidth":2,"tickSize":-5}}}},
  {"data":{"values":[{}]},"mark":{"type":"point","opacity":0},
   "encoding":{"x":{"datum":0,"axis":{"orient":"bottom","values":[0,0.5,1],"labels":false,"title":null,"grid":false,"domain":false,"ticks":true,"tickColor":"black","tickWidth":2,"tickSize":-10}},
               "y":{"datum":0,"axis":{"orient":"left","values":[-1,-0.5,0,0.5,1],"labels":false,"title":null,"grid":false,"domain":false,"ticks":true,"tickColor":"black","tickWidth":2,"tickSize":-10}}}},
  {"data":{"values":[{}]},"mark":{"type":"point","opacity":0},
   "encoding":{"x":{"datum":0,"axis":{"orient":"top","values":[-0.3,-0.2,-0.1,0.1,0.2,0.3,0.4,0.6,0.7,0.8,0.9,1.1,1.2,1.3,1.4],"labels":false,"title":null,"grid":false,"domain":true,"domainColor":"black","domainWidth":2,"ticks":true,"tickColor":"black","tickWidth":2,"tickSize":-5}},
               "y":{"datum":0,"axis":{"orient":"right","values":[-0.9,-0.8,-0.7,-0.6,-0.4,-0.3,-0.2,-0.1,0.1,0.2,0.3,0.4,0.6,0.7,0.8,0.9],"labels":false,"title":null,"grid":false,"domain":true,"domainColor":"black","domainWidth":2,"ticks":true,"tickColor":"black","tickWidth":2,"tickSize":-5}}}},
  {"data":{"values":[{}]},"mark":{"type":"point","opacity":0},
   "encoding":{"x":{"datum":0,"axis":{"orient":"top","values":[0,0.5,1],"labels":false,"title":null,"grid":false,"domain":false,"ticks":true,"tickColor":"black","tickWidth":2,"tickSize":-10}},
               "y":{"datum":0,"axis":{"orient":"right","values":[-1,-0.5,0,0.5,1],"labels":false,"title":null,"grid":false,"domain":false,"ticks":true,"tickColor":"black","tickWidth":2,"tickSize":-10}}}},
  {"data":{"values":[{}]},"mark":{"type":"point","opacity":0},
   "encoding":{"x":{"datum":0,"axis":{"orient":"bottom","values":[0,0.5,1],"ticks":false,"domain":false,"grid":false,"labelFontSize":31,"labelPadding":2,"labelColor":"black","labelExpr":"format(datum.value,'.1f')","title":"log n (Sersic)","titleFontSize":31,"titleFontWeight":"normal","titleColor":"black","titlePadding":14}},
               "y":{"datum":0,"axis":null}}},
  {"data":{"values":[{}]},"mark":{"type":"rule","color":"#ff0000","strokeWidth":2.5,"strokeDash":[11,7]},"encoding":{"y":{"datum":0,"axis":null}}},
  {"data":{"values":[{}]},"mark":{"type":"text","text":"M","fontSize":30,"color":"#0000ff","align":"left","baseline":"alphabetic"},"encoding":{"x":{"datum":-0.297,"axis":null},"y":{"datum":0.69,"axis":null}}},
  {"data":{"values":[{}]},"mark":{"type":"text","text":"vir","fontSize":19,"color":"#0000ff","align":"left","baseline":"alphabetic"},"encoding":{"x":{"datum":-0.163,"axis":null},"y":{"datum":0.624,"axis":null}}},
  {"data":{"values":[{}]},"mark":{"type":"text","text":"≡","fontSize":30,"color":"#0000ff","align":"left","baseline":"alphabetic"},"encoding":{"x":{"datum":-0.013,"axis":null},"y":{"datum":0.69,"axis":null}}},
  {"data":{"values":[{}]},"mark":{"type":"text","text":"0.70","fontSize":30,"color":"#0000ff","align":"left","baseline":"alphabetic"},"encoding":{"x":{"datum":0.160,"axis":null},"y":{"datum":0.69,"axis":null}}},
  {"data":{"values":[{}]},"mark":{"type":"text","text":"β(n)","fontSize":30,"color":"#0000ff","align":"left","baseline":"alphabetic"},"encoding":{"x":{"datum":0.520,"axis":null},"y":{"datum":0.69,"axis":null}}},
  {"data":{"values":[{}]},"mark":{"type":"text","text":"σ","fontSize":30,"color":"#0000ff","align":"left","baseline":"alphabetic"},"encoding":{"x":{"datum":0.857,"axis":null},"y":{"datum":0.69,"axis":null}}},
  {"data":{"values":[{}]},"mark":{"type":"text","text":"e","fontSize":19,"color":"#0000ff","align":"left","baseline":"alphabetic"},"encoding":{"x":{"datum":0.983,"axis":null},"y":{"datum":0.624,"axis":null}}},
  {"data":{"values":[{}]},"mark":{"type":"text","text":"2","fontSize":19,"color":"#0000ff","align":"left","baseline":"alphabetic"},"encoding":{"x":{"datum":0.983,"axis":null},"y":{"datum":0.79,"axis":null}}},
  {"data":{"values":[{}]},"mark":{"type":"text","text":"R","fontSize":30,"color":"#0000ff","align":"left","baseline":"alphabetic"},"encoding":{"x":{"datum":1.102,"axis":null},"y":{"datum":0.69,"axis":null}}},
  {"data":{"values":[{}]},"mark":{"type":"text","text":"e","fontSize":19,"color":"#0000ff","align":"left","baseline":"alphabetic"},"encoding":{"x":{"datum":1.222,"axis":null},"y":{"datum":0.624,"axis":null}}},
  {"data":{"values":[{}]},"mark":{"type":"text","text":"Ser","fontSize":19,"color":"#0000ff","align":"left","baseline":"alphabetic"},"encoding":{"x":{"datum":1.222,"axis":null},"y":{"datum":0.79,"axis":null}}}
 ],
 "resolve":{"axis":{"x":"independent","y":"independent"}}
}
]
}
